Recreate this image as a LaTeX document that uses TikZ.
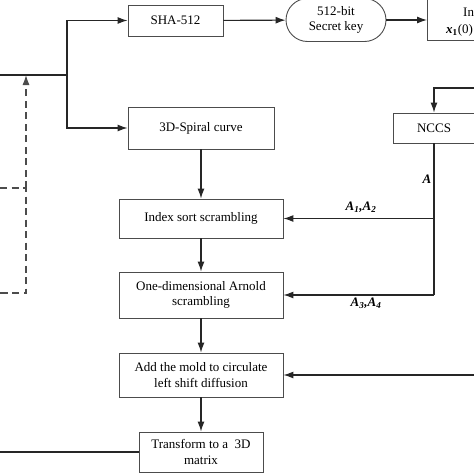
\documentclass[tikz,border=0pt]{standalone}
\usepackage{fontspec}
\setmainfont{Liberation Serif}
\usetikzlibrary{arrows.meta,shapes.misc}

\tikzset{
  blk/.style={draw=black!70,line width=0.9pt,inner sep=2pt,align=center,
      font=\fontsize{13}{15.5}\selectfont},
  capsule/.style={blk,rounded rectangle},
  tip/.style={-{Latex[length=10pt,width=7pt]}},
  flow/.style={line width=1.1pt,draw=black!85,tip},
  wire/.style={line width=1.1pt,draw=black!85},
  lbl/.style={inner sep=0pt,font=\fontsize{13}{15}\selectfont\bfseries\itshape},
  dsh/.style={line width=1.1pt,draw=black!70,dash pattern=on 7pt off 4.5pt}
}

\begin{document}
\begin{tikzpicture}[x=1pt,y=-1pt]
  \useasboundingbox (0,0) rectangle (474,474);
  \clip (0,0) rectangle (474,474);

  % key generation branch
  \node [blk,minimum width=95,minimum height=31] (sha) at (175.5,20.5) {SHA-512};
  \node [capsule,minimum width=104,minimum height=43] (key) at (336,20) {512-bit\\Secret key};
  \node [blk,minimum width=110,minimum height=80,anchor=south west] (init) at (427,41) {};
  \node [anchor=west,inner sep=0pt,font=\fontsize{13}{15}\selectfont] (initA) at (463,12) {Initial};
  \node [anchor=west,inner sep=0pt,font=\fontsize{13}{15}\selectfont] (initB) at (446,30)
      {\textbf{\textit{x}\textsubscript{1}}(0)};

  % scrambling and diffusion chain
  \node [blk,minimum width=146,minimum height=42] (spiral) at (201,128) {3D-Spiral curve};
  \node [blk,minimum width=164,minimum height=39] (index) at (201,218.5) {Index sort scrambling};
  \node [blk,minimum width=164,minimum height=46] (arnold) at (201,295) {One-dimensional Arnold\\scrambling};
  \node [blk,minimum width=164,minimum height=44] (mold) at (201,375) {Add the mold to circulate\\left shift diffusion};
  \node [blk,minimum width=124,minimum height=40] (trans) at (201,452) {Transform to a~~3D\\matrix};

  \node [blk,minimum width=82,minimum height=30] (nccs) at (434,128) {NCCS};

  \coordinate (in) at (0,75);
  \coordinate (split) at (67,75);
  \coordinate (out) at (0,452);
  \coordinate (fb) at (480,88);
  \coordinate (ka) at (434,218.5);
  \coordinate (kb) at (434,295);
  \coordinate (km) at (480,375);

  \draw [wire] (in) -- (split);
  \draw [flow] (split) |- (sha);
  \draw [flow] (split) |- (spiral);
  \draw [flow] (sha) -- (key);
  \draw [flow] (key.east) -- (key.east -| init.west);

  \draw [flow] (spiral) -- (index);
  \draw [flow] (index) -- (arnold);
  \draw [flow] (arnold) -- (mold);
  \draw [flow] (mold) -- (trans);
  \draw [wire] (trans.west) -- (out);

  \draw [flow] (fb) -| (nccs);
  \draw [wire] (nccs) -- (kb);
  \draw [flow] (ka) -- (index.east);
  \draw [flow] (kb) -- (arnold.east);
  \draw [flow] (km) -- (mold.east);

  \node [lbl] (lA) at (427,179) {A};
  \node [lbl] (lA12) at (361,207) {A\textsubscript{1},A\textsubscript{2}};
  \node [lbl] (lA34) at (366,303) {A\textsubscript{3},A\textsubscript{4}};

  % dashed feedback
  \coordinate (d1) at (0,188);
  \coordinate (d2) at (26,188);
  \coordinate (d3) at (26,293);
  \coordinate (d4) at (0,293);
  \draw [dsh] (d1) -- (d2) -- (d3) -- (d4);
  \draw [dsh,tip] (d2) -- (d2 |- in);
\end{tikzpicture}
\end{document}
